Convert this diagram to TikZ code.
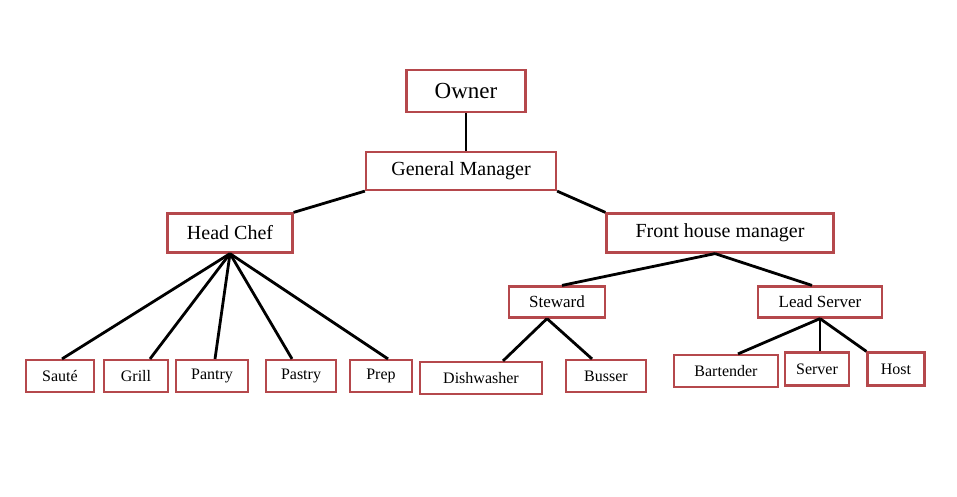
\documentclass[tikz,border=0pt]{standalone}
\usepackage{fontspec}
\setmainfont{Liberation Serif}
\definecolor{boxred}{HTML}{B5484C}
\tikzset{
  role/.style={draw=boxred, line width=2.2pt, fill=white, inner sep=0pt, anchor=center},
  link/.style={black, line width=2.8pt}
}
\begin{document}
\begin{tikzpicture}[x=1pt, y=-1pt]
\useasboundingbox (0,0) rectangle (957,496);

% Define nodes
\node[role, minimum width=119pt, minimum height=42pt, font=\fontsize{23}{23}\selectfont] (own) at (466,91)  {Owner};
\node[role, minimum width=190pt, minimum height=38pt, font=\fontsize{20}{20}\selectfont] (gm)  at (461,171) {General Manager};
\node[role, minimum width=125pt, minimum height=39pt, font=\fontsize{20}{20}\selectfont] (hc)  at (230,233) {Head Chef};
\node[role, minimum width=227pt, minimum height=39pt, font=\fontsize{20}{20}\selectfont] (fh)  at (720,233) {Front house manager};
\node[role, minimum width=96pt,  minimum height=31pt, font=\fontsize{17}{17}\selectfont] (st)  at (557,302) {Steward};
\node[role, minimum width=124pt, minimum height=31pt, font=\fontsize{17}{17}\selectfont] (ls)  at (820,302) {Lead Server};

\node[role, minimum width=68pt,  minimum height=32pt, font=\fontsize{16}{16}\selectfont] (sa) at (60,376)  {Sauté};
\node[role, minimum width=64pt,  minimum height=32pt, font=\fontsize{16}{16}\selectfont] (gr) at (136,376) {Grill};
\node[role, minimum width=72pt,  minimum height=32pt, font=\fontsize{16}{16}\selectfont] (pa) at (212,376) {Pantry};
\node[role, minimum width=70pt,  minimum height=32pt, font=\fontsize{16}{16}\selectfont] (ps) at (301,376) {Pastry};
\node[role, minimum width=62pt,  minimum height=32pt, font=\fontsize{16}{16}\selectfont] (pr) at (381,376) {Prep};
\node[role, minimum width=122pt, minimum height=32pt, font=\fontsize{16}{16}\selectfont] (dw) at (481,378) {Dishwasher};
\node[role, minimum width=80pt,  minimum height=32pt, font=\fontsize{16}{16}\selectfont] (bu) at (606,376) {Busser};
\node[role, minimum width=104pt, minimum height=32pt, font=\fontsize{16}{16}\selectfont] (bt) at (726,371) {Bartender};
\node[role, minimum width=64pt,  minimum height=33pt, font=\fontsize{16}{16}\selectfont] (sv) at (817,369) {Server};
\node[role, minimum width=57pt,  minimum height=33pt, font=\fontsize{16}{16}\selectfont] (ho) at (896,369) {Host};

% Edges
\draw[link] (own.south) -- ([xshift=5pt]gm.north);
\draw[link] (gm.south west) -- (hc.north east);
\draw[link] (gm.south east) -- (fh.north west);
\foreach \n/\dx in {sa/2, gr/14, pa/3, ps/-9, pr/7}
  \draw[link] (hc.south) -- ([xshift=\dx pt]\n.north);
\draw[link] ([xshift=-5pt]fh.south) -- ([xshift=5pt]st.north);
\draw[link] ([xshift=-5pt]fh.south) -- ([xshift=-8pt]ls.north);
\draw[link] ([xshift=-10pt]st.south) -- ([xshift=22pt]dw.north);
\draw[link] ([xshift=-10pt]st.south) -- ([xshift=-14pt]bu.north);
\draw[link] (ls.south) -- ([xshift=12pt]bt.north);
\draw[link] (ls.south) -- ([xshift=3pt]sv.north);
\draw[link] (ls.south) -- (ho.north west);
\end{tikzpicture}
\end{document}
